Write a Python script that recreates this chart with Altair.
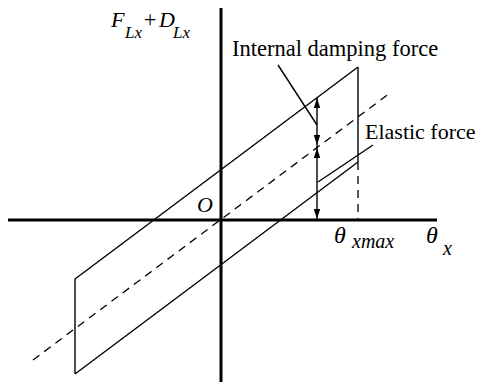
import altair as alt
import pandas as pd

# ---- data (schematic coordinates: theta_x horizontal, force vertical) ----
# solid outline of the hysteresis loop + arrow shaft + leader lines
seg_x1 = [-146, -146, -146, 137, 96, 57, 97]
seg_y1 = [-59, -154, -59, 153, 0, 155, 38]
seg_x2 = [137, 137, -146, 137, 96, 96, 152]
seg_y2 = [153, 58, -154, 58, 122, 95, 75]

# dashed lines: elastic (stiffness) line and theta_xmax marker
dash_x1 = [-188, 137]
dash_y1 = [-140, 58]
dash_x2 = [169, 137]
dash_y2 = [127, 0]

# axes
axis_x1 = [-213, 0]
axis_y1 = [0, -162]
axis_x2 = [216, 0]
axis_y2 = [0, 213]

# arrow heads
up_x = [96, 96]
up_y = [122, 72]
down_x = [96, 96]
down_y = [75, 1]

# labels
reg_text = ["Internal damping force", "Elastic force", "+"]
reg_x = [11, 144, -71]
reg_y = [164, 81, 193]
reg_align = ["left", "left", "center"]
reg_size = [22.5, 22, 22.5]

ital_text = ["O", "θ", "θ", "F", "D"]
ital_x = [-16, 113, 205, -110, -62]
ital_y = [8, -23, -23, 193, 193]
ital_align = ["center", "left", "left", "left", "left"]
ital_size = [22, 24, 24, 22, 22]

sub_text = ["xmax", "x", "Lx", "Lx"]
sub_x = [131, 222, -96, -48]
sub_y = [-28, -35, 182, 182]
sub_size = [20, 20, 17, 17]

XDOM = [-213, 254]
YDOM = [-162, 212]
FONT = "Liberation Serif"

xs = alt.Scale(domain=XDOM, nice=False, zero=False)
ys = alt.Scale(domain=YDOM, nice=False, zero=False)


def seg_df(x1, y1, x2, y2):
    return pd.DataFrame({"x": x1, "y": y1, "x2": x2, "y2": y2})


def seg_enc(ch):
    return ch.encode(
        x=alt.X("x:Q", scale=xs, axis=None),
        y=alt.Y("y:Q", scale=ys, axis=None),
        x2="x2:Q",
        y2="y2:Q",
    )


solid = seg_enc(alt.Chart(seg_df(seg_x1, seg_y1, seg_x2, seg_y2)).mark_rule(
    color="black", strokeWidth=1.4))
dashed = seg_enc(alt.Chart(seg_df(dash_x1, dash_y1, dash_x2, dash_y2)).mark_rule(
    color="black", strokeWidth=1.3, strokeDash=[8, 6]))
axes = seg_enc(alt.Chart(seg_df(axis_x1, axis_y1, axis_x2, axis_y2)).mark_rule(
    color="black", strokeWidth=3))

up = alt.Chart(pd.DataFrame({"x": up_x, "y": up_y})).mark_point(
    shape="M0,0L-0.32,1L0.32,1Z", size=400, filled=True, color="black", opacity=1
).encode(x=alt.X("x:Q", scale=xs, axis=None), y=alt.Y("y:Q", scale=ys, axis=None))
down = alt.Chart(pd.DataFrame({"x": down_x, "y": down_y})).mark_point(
    shape="M0,0L-0.32,-1L0.32,-1Z", size=400, filled=True, color="black", opacity=1
).encode(x=alt.X("x:Q", scale=xs, axis=None), y=alt.Y("y:Q", scale=ys, axis=None))


def text_layers(texts, x, y, aligns, sizes, italic):
    layers = []
    df = pd.DataFrame({"t": texts, "x": x, "y": y, "a": aligns, "s": sizes})
    for (a, s), sub in df.groupby(["a", "s"]):
        kw = dict(font=FONT, fontSize=float(s), color="black", align=a,
                  baseline="alphabetic")
        if italic:
            kw["fontStyle"] = "italic"
        layers.append(alt.Chart(sub[["t", "x", "y"]]).mark_text(**kw).encode(
            x=alt.X("x:Q", scale=xs, axis=None),
            y=alt.Y("y:Q", scale=ys, axis=None),
            text="t:N",
        ))
    return layers


reg_layers = text_layers(reg_text, reg_x, reg_y, reg_align, reg_size, False)
ital_layers = text_layers(ital_text, ital_x, ital_y, ital_align, ital_size, True)
sub_layers = text_layers(sub_text, sub_x, sub_y, ["left"] * len(sub_text),
                         sub_size, True)

chart = alt.layer(
    dashed, solid, axes, up, down, *reg_layers, *ital_layers, *sub_layers
).properties(
    width=467, height=374, padding=0,
    autosize=alt.AutoSizeParams(type="none"),
    background="white",
).configure_view(stroke=None)

chart.save("out.html", embed_options={"renderer": "svg", "actions": False})
